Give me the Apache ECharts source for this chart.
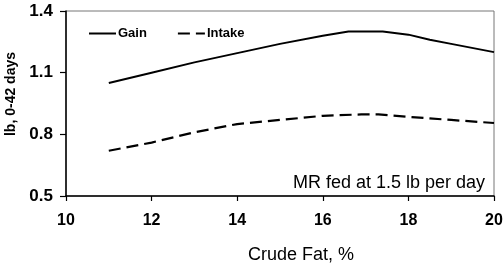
<!DOCTYPE html>
<html>
<head>
<meta charset="utf-8">
<script src="https://cdn.jsdelivr.net/npm/echarts@6/dist/echarts.min.js"></script>
<style>
  html, body { margin: 0; padding: 0; background: #fff; }
  #chart { width: 504px; height: 270px; }
</style>
</head>
<body>
<div id="chart"></div>
<script>
// crude fat (%) where each curve was sampled
const fatGain = [11, 12, 13, 14, 15, 16, 16.6, 17.4, 18, 18.5, 19, 20];
const gain = [1.05, 1.10, 1.15, 1.195, 1.24, 1.28, 1.30, 1.30, 1.285, 1.26, 1.24, 1.20];

const fatIntake = [11, 12, 13, 14, 15, 16, 16.9, 17.3, 18, 19, 20];
const intake = [0.72, 0.76, 0.81, 0.85, 0.87, 0.89, 0.897, 0.897, 0.885, 0.87, 0.855];

const xTicks = [10, 12, 14, 16, 18, 20];
const yTicks = [0.5, 0.8, 1.1, 1.4];

const font = "'Liberation Sans', Arial, sans-serif";

const chart = echarts.init(document.getElementById('chart'));

const pairs = (xs, ys) => xs.map((x, i) => [x, ys[i]]);

const option = {
  animation: false,
  backgroundColor: '#fff',
  grid: {
    left: 66, top: 11, width: 428, height: 185,
    containLabel: false, outerBoundsMode: 'none',
    show: true, borderColor: '#777', borderWidth: 1
  },
  legend: {
    left: 83, top: 22,
    itemWidth: 27, itemHeight: 3, itemGap: 30,
    itemStyle: { opacity: 0 },
    textStyle: {
      fontFamily: font, fontWeight: 'bold', fontSize: 13, color: '#000',
      padding: [0, 0, 0, -3]
    },
    data: ['Gain', 'Intake']
  },
  xAxis: {
    type: 'value',
    min: xTicks[0], max: xTicks[xTicks.length - 1], interval: 2,
    axisLine: { lineStyle: { color: '#000', width: 1.5 } },
    axisTick: { show: true, length: 5, lineStyle: { color: '#000', width: 1.2 } },
    axisLabel: { fontFamily: font, fontWeight: 'bold', fontSize: 16, color: '#000', margin: 17 },
    splitLine: { show: false }
  },
  yAxis: {
    type: 'value',
    min: yTicks[0], max: yTicks[yTicks.length - 1], interval: 0.3,
    name: 'lb, 0-42 days',
    nameLocation: 'middle', nameGap: 42, nameRotate: 90,
    nameTextStyle: {
      fontFamily: font, fontWeight: 'bold', fontSize: 14, color: '#000',
      padding: [0, 0, 0, 19]
    },
    axisLine: { show: true, lineStyle: { color: '#000', width: 1.5 } },
    axisTick: { show: true, length: 6, lineStyle: { color: '#000', width: 1.2 } },
    axisLabel: {
      fontFamily: font, fontWeight: 'bold', fontSize: 17, color: '#000', margin: 13,
      formatter: v => v.toFixed(1)
    },
    splitLine: { show: false }
  },
  graphic: [
    {
      type: 'text', left: 248, top: 246,
      style: { text: 'Crude Fat, %', font: '18px ' + font, fill: '#000' }
    },
    {
      type: 'text', left: 293, top: 174,
      style: { text: 'MR fed at 1.5 lb per day', font: '18px ' + font, fill: '#000' }
    }
  ],
  series: [
    {
      name: 'Gain', type: 'line', showSymbol: false, symbol: 'none',
      data: pairs(fatGain, gain),
      lineStyle: { color: '#000', width: 2 },
      itemStyle: { color: '#000' }
    },
    {
      name: 'Intake', type: 'line', showSymbol: false, symbol: 'none',
      data: pairs(fatIntake, intake),
      lineStyle: { color: '#000', width: 2.2, type: [12, 6] },
      itemStyle: { color: '#000' }
    }
  ]
};

chart.setOption(option);
</script>
</body>
</html>
